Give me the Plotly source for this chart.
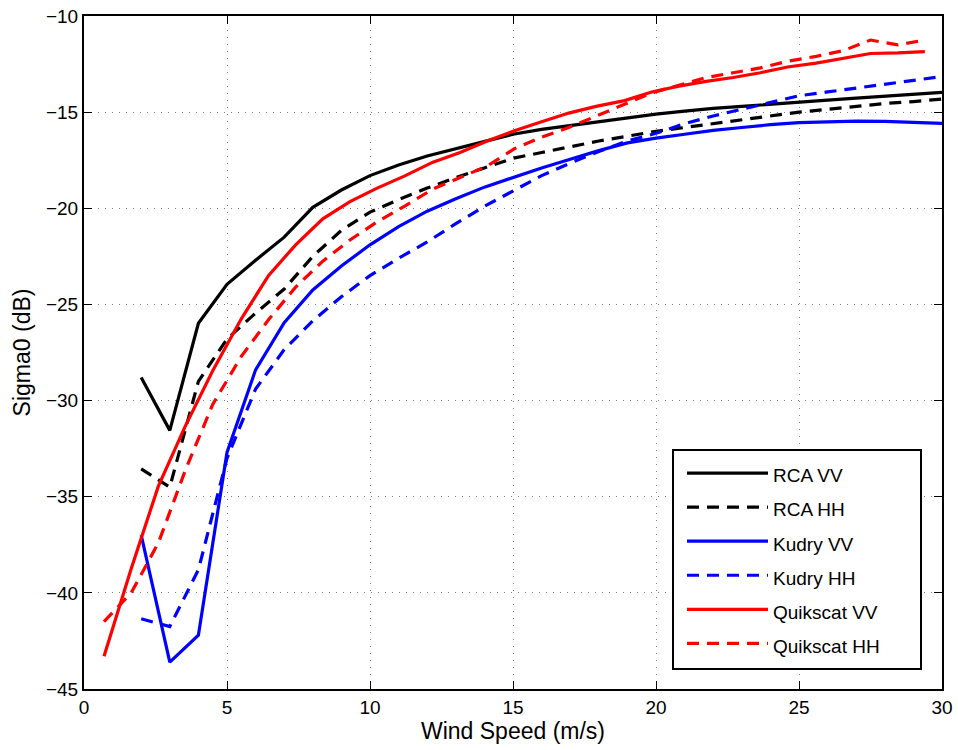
import plotly.graph_objects as go

# Wind speeds (m/s)
wind = list(range(2, 31))
wind_q = [0.7, 1.65, 2.6, 3.55, 4.5, 5.5, 6.45, 7.4, 8.35, 9.3, 10.25, 11.2, 12.2, 13.15,
          14.1, 15.05, 16.0, 16.95, 17.9, 18.9, 19.85, 20.8, 21.75, 22.7, 23.65, 24.6,
          25.6, 26.55, 27.5, 28.45, 29.4]

rca_vv = [-28.8, -31.55, -25.98, -23.95, -22.7, -21.5, -19.95, -19.05, -18.3, -17.75,
          -17.28, -16.9, -16.55, -16.15, -15.9, -15.7, -15.5, -15.33, -15.1, -14.95,
          -14.8, -14.7, -14.58, -14.47, -14.37, -14.27, -14.17, -14.07, -13.97]
rca_hh = [-33.55, -34.5, -29.0, -26.8, -25.45, -24.2, -22.5, -21.15, -20.2, -19.55,
          -18.95, -18.4, -17.9, -17.4, -17.1, -16.8, -16.5, -16.25, -16.0, -15.8,
          -15.6, -15.4, -15.2, -15.0, -14.85, -14.7, -14.55, -14.45, -14.32]
kudry_vv = [-37.0, -43.6, -42.2, -32.7, -28.4, -25.95, -24.25, -23.0, -21.9, -20.95,
            -20.15, -19.5, -18.9, -18.4, -17.9, -17.45, -17.0, -16.6, -16.35, -16.15,
            -15.95, -15.8, -15.65, -15.55, -15.5, -15.47, -15.48, -15.52, -15.58]
kudry_hh = [-41.35, -41.75, -38.8, -33.0, -29.4, -27.35, -25.85, -24.6, -23.5, -22.6,
            -21.75, -20.8, -19.9, -19.1, -18.3, -17.65, -17.05, -16.5, -16.1, -15.6,
            -15.2, -14.85, -14.5, -14.15, -13.95, -13.75, -13.55, -13.35, -13.15]
quik_vv = [-43.3, -38.75, -34.45, -31.3, -28.45, -25.75, -23.5, -21.9, -20.55, -19.65,
           -18.95, -18.33, -17.6, -17.1, -16.5, -15.97, -15.5, -15.05, -14.7, -14.4,
           -13.95, -13.65, -13.4, -13.2, -12.95, -12.65, -12.45, -12.2, -11.95, -11.92,
           -11.85]
quik_hh = [-41.5, -40.0, -37.4, -33.6, -30.2, -27.7, -25.8, -24.1, -22.75, -21.65,
           -20.7, -19.9, -19.0, -18.4, -17.8, -16.9, -16.3, -15.8, -15.2, -14.6,
           -14.0, -13.6, -13.2, -12.95, -12.7, -12.35, -12.1, -11.8, -11.25, -11.5,
           -11.25]

series_names = ["RCA VV", "RCA HH", "Kudry VV", "Kudry HH", "Quikscat VV", "Quikscat HH"]

x_ticks = [0, 5, 10, 15, 20, 25, 30]
y_ticks = [-45, -40, -35, -30, -25, -20, -15, -10]

FONT = "Liberation Sans, Arial, Helvetica, sans-serif"
DASH = "12px,8px"
series = [
    (series_names[0], wind, rca_vv, "#000000", "solid"),
    (series_names[1], wind, rca_hh, "#000000", DASH),
    (series_names[2], wind, kudry_vv, "#0000ff", "solid"),
    (series_names[3], wind, kudry_hh, "#0000ff", DASH),
    (series_names[4], wind_q, quik_vv, "#ff0000", "solid"),
    (series_names[5], wind_q, quik_hh, "#ff0000", DASH),
]

fig = go.Figure()
for name, xs, ys, color, dash in series:
    fig.add_trace(go.Scatter(
        x=xs, y=ys, mode="lines",
        name=f'<span style="font-size:19px">{name}</span>',
        line=dict(color=color, width=3.2, dash=dash)))

axis_common = dict(
    showline=True, linecolor="black", linewidth=2, mirror="ticks",
    ticks="inside", ticklen=8, tickwidth=1, tickcolor="black",
    showgrid=True, gridcolor="#808080", gridwidth=1, griddash="1px,6px",
    zeroline=False, automargin=False,
    tickfont=dict(family=FONT, size=19, color="black"),
)

# legend frame (plot-area pixel geometry: left 84, width 858, bottom 689, height 673)
leg_x0, leg_x1 = (673 - 84) / 858, (921 - 84) / 858
leg_y0, leg_y1 = (689 - 669) / 673, (689 - 450) / 673

fig.update_layout(
    width=958, height=750,
    margin=dict(l=84, r=16, t=16, b=61, autoexpand=False),
    paper_bgcolor="white", plot_bgcolor="white",
    font=dict(family=FONT, size=19, color="black"),
    xaxis=dict(range=[0, 30], tickvals=x_ticks,
               title=dict(text="Wind Speed (m/s)", font=dict(size=23), standoff=6),
               **axis_common),
    yaxis=dict(range=[-45, -10], tickvals=y_ticks,
               title=dict(text="Sigma0 (dB)", font=dict(size=23), standoff=9),
               **axis_common),
    shapes=[dict(type="rect", xref="paper", yref="paper",
                 x0=leg_x0, x1=leg_x1, y0=leg_y0, y1=leg_y1,
                 line=dict(color="black", width=2), fillcolor="white", layer="above")],
    legend=dict(x=(682 - 84) / 858, y=(689 - 451) / 673, xanchor="left", yanchor="top",
                bgcolor="rgba(0,0,0,0)", borderwidth=0,
                font=dict(family=FONT, size=23.9),
                traceorder="normal", itemwidth=81),
    showlegend=True,
)

fig.write_html("out.html")
